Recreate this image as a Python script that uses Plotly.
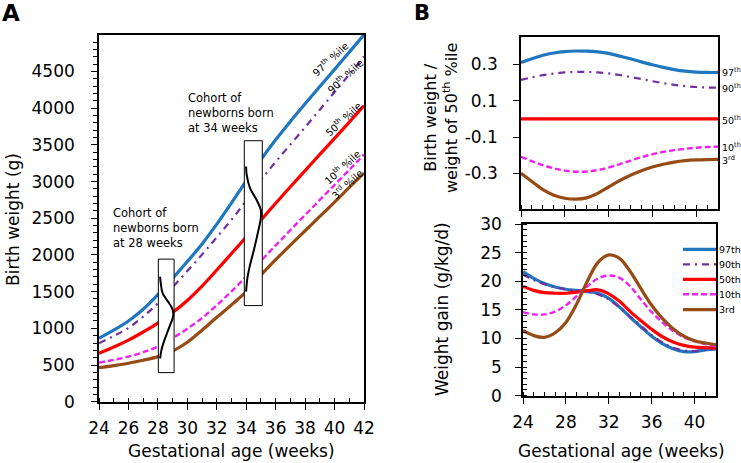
import plotly.graph_objects as go

W, H = 741, 463
FONT = "DejaVu Sans"

# ---------------- data ----------------
weeks = list(range(24, 43))

# Panel A: birth weight (g) by percentile
bw_97 = [865, 975, 1100, 1260, 1460, 1680, 1910, 2150, 2420, 2710, 3010, 3300, 3570, 3820, 4060, 4295, 4530, 4765, 5000]
bw_90 = [797, 895, 1005, 1160, 1340, 1560, 1780, 2005, 2240, 2480, 2740, 3020, 3270, 3505, 3740, 3980, 4220, 4460, 4705]
bw_50 = [660, 745, 840, 950, 1070, 1215, 1380, 1575, 1795, 2020, 2245, 2475, 2705, 2930, 3150, 3370, 3590, 3810, 4035]
bw_10 = [532, 570, 614, 675, 750, 865, 995, 1140, 1315, 1505, 1705, 1920, 2130, 2340, 2545, 2750, 2955, 3160, 3370]
bw_3 = [464, 492, 524, 565, 614, 690, 810, 975, 1150, 1320, 1500, 1725, 1935, 2135, 2330, 2525, 2720, 2920, 3116]

# Cohort boxes (week span, weight span)
box28_x = [28.03, 29.10]
box28_y = [396, 1943]
box34_x = [33.87, 35.09]
box34_y = [1310, 3557]

# Cohort weight distributions (weight, relative density)
dist28_w = [1705, 1615, 1479, 1364, 1274, 1206, 1138, 1046, 933, 819, 705, 592]
dist28_d = [0.0, 0.05, 0.19, 0.60, 0.90, 1.00, 0.95, 0.76, 0.52, 0.29, 0.10, 0.0]
dist28_base, dist28_scale = 28.15, 0.90
dist34_w = [3206, 3093, 2911, 2752, 2615, 2502, 2319, 2093, 1865, 1683, 1500]
dist34_d = [0.0, 0.04, 0.27, 0.71, 1.00, 1.00, 0.82, 0.56, 0.27, 0.09, 0.0]
dist34_base, dist34_scale = 33.99, 1.00

# Panel B top: birth weight relative to 50th percentile
rel_97 = [0.31, 0.33, 0.35, 0.362, 0.370, 0.373, 0.372, 0.368, 0.360, 0.345, 0.330, 0.313, 0.297, 0.283, 0.271, 0.262, 0.257, 0.255, 0.255]
rel_90 = [0.214, 0.228, 0.240, 0.249, 0.255, 0.258, 0.258, 0.255, 0.250, 0.241, 0.230, 0.219, 0.207, 0.196, 0.187, 0.180, 0.175, 0.172, 0.171]
rel_50 = [0.0] * 19
rel_10 = [-0.209, -0.233, -0.255, -0.272, -0.285, -0.291, -0.290, -0.282, -0.268, -0.250, -0.230, -0.211, -0.195, -0.182, -0.172, -0.165, -0.159, -0.155, -0.153]
rel_3 = [-0.30, -0.345, -0.39, -0.42, -0.437, -0.442, -0.435, -0.41, -0.375, -0.34, -0.31, -0.285, -0.265, -0.25, -0.238, -0.23, -0.226, -0.224, -0.223]

# Panel B bottom: weight gain (g/kg/d)
wg_97 = [21.7, 20.5, 19.6, 19.0, 18.6, 18.4, 18.2, 17.9, 17.0, 15.5, 13.7, 12.0, 10.4, 9.1, 8.2, 7.7, 7.7, 8.0, 8.2]
wg_90 = [21.2, 20.2, 19.5, 19.0, 18.6, 18.4, 18.2, 17.7, 16.8, 15.4, 13.8, 12.2, 10.6, 9.3, 8.4, 7.9, 7.8, 8.0, 8.2]
wg_50 = [19.1, 18.4, 18.0, 17.9, 17.9, 18.1, 18.35, 18.5, 17.8, 16.5, 14.7, 13.1, 11.6, 10.3, 9.4, 8.8, 8.5, 8.4, 8.35]
wg_10 = [14.6, 14.2, 14.2, 14.7, 15.8, 17.4, 19.1, 20.5, 21.0, 20.6, 19.1, 16.8, 14.6, 12.8, 11.3, 10.2, 9.5, 9.0, 8.6]
wg_3 = [11.4, 10.5, 10.2, 11.0, 12.8, 16.0, 20.0, 23.3, 24.6, 24.0, 21.7, 18.7, 15.8, 13.5, 11.7, 10.4, 9.6, 9.2, 8.9]

pct_names = ["97th", "90th", "50th", "10th", "3rd"]
pct_sup = ["97<sup>th</sup>", "90<sup>th</sup>", "50<sup>th</sup>", "10<sup>th</sup>", "3<sup>rd</sup>"]

a_ticks_x = [24, 26, 28, 30, 32, 34, 36, 38, 40, 42]
b_ticks_x = [24, 28, 32, 36, 40]

# ---------------- styles ----------------
colors = ["#1f77c0", "#7030a0", "#ff0000", "#ee22ee", "#964b14"]
dashes = ["solid", "7px,5px,2px,5px", "solid", "6px,3px", "solid"]
widths = [3.2, 2.2, 3.2, 2.4, 3.2]


def px_x(p):
    return p / W


def px_y(p):
    return 1 - p / H


fig = go.Figure()

# Panel A curves
for vals, c, d, w, n in zip([bw_97, bw_90, bw_50, bw_10, bw_3], colors, dashes, widths, pct_names):
    fig.add_trace(go.Scatter(x=weeks, y=vals, mode="lines", line=dict(color=c, dash=d, width=w, shape="spline"),
                             name=n, showlegend=False, xaxis="x", yaxis="y"))

# Cohort boxes and distributions
for bx, by, dw, dd, base, sc in [(box28_x, box28_y, dist28_w, dist28_d, dist28_base, dist28_scale),
                                  (box34_x, box34_y, dist34_w, dist34_d, dist34_base, dist34_scale)]:
    fig.add_trace(go.Scatter(x=[bx[0], bx[1], bx[1], bx[0], bx[0]], y=[by[0], by[0], by[1], by[1], by[0]],
                             mode="lines", fill="toself", fillcolor="white",
                             line=dict(color="black", width=1), showlegend=False, hoverinfo="skip",
                             xaxis="x", yaxis="y"))
    fig.add_trace(go.Scatter(x=[base + v * sc for v in dd], y=dw, mode="lines",
                             line=dict(color="black", width=2, shape="spline"), showlegend=False,
                             xaxis="x", yaxis="y"))

# Panel B top
for vals, c, d, w, n in zip([rel_97, rel_90, rel_50, rel_10, rel_3], colors, dashes, widths, pct_names):
    fig.add_trace(go.Scatter(x=weeks, y=vals, mode="lines", line=dict(color=c, dash=d, width=w, shape="spline"),
                             name=n, showlegend=False, xaxis="x2", yaxis="y2"))

# Panel B bottom
for vals, c, d, w, n in zip([wg_97, wg_90, wg_50, wg_10, wg_3], colors, dashes, widths, pct_names):
    fig.add_trace(go.Scatter(x=weeks, y=vals, mode="lines", line=dict(color=c, dash=d, width=w, shape="spline"),
                             name=n, showlegend=False, xaxis="x3", yaxis="y3"))

axis_common = dict(showline=True, linecolor="black", linewidth=1.6, mirror=True, showgrid=False, zeroline=False,
                   ticks="outside", tickcolor="black", ticklen=6, tickwidth=1.2, automargin=False,
                   tickfont=dict(family=FONT, size=17, color="black"))

fig.update_layout(
    width=W, height=H, margin=dict(l=0, r=0, t=0, b=0, autoexpand=False),
    paper_bgcolor="white", plot_bgcolor="white",
    font=dict(family=FONT, color="black"),
    xaxis=dict(domain=[px_x(99), px_x(364)], range=[24, 42], tickvals=a_ticks_x,
               minor=dict(dtick=1, ticks="inside", ticklen=4, tickcolor="black"),
               ticklabelstandoff=4, anchor="y", **axis_common),
    yaxis=dict(domain=[px_y(401.7), px_y(35)], range=[0, 4998], dtick=500,
               minor=dict(dtick=100, ticks="outside", ticklen=4, tickcolor="black"),
               ticklabelstandoff=13, anchor="x", **axis_common),
    xaxis2=dict(domain=[px_x(521), px_x(718)], range=[24, 42], tickvals=b_ticks_x, showticklabels=False,
                minor=dict(dtick=1, ticks="inside", ticklen=4, tickcolor="black"), anchor="y2", **axis_common),
    yaxis2=dict(domain=[px_y(209), px_y(37)], range=[-0.496, 0.45], tickvals=[-0.3, -0.1, 0.1, 0.3],
                ticktext=["-0.3", "-0.1", "0.1", "0.3"], ticklabelstandoff=12, anchor="x2", **axis_common),
    xaxis3=dict(domain=[px_x(523), px_x(716)], range=[24, 42], tickvals=b_ticks_x,
                minor=dict(dtick=1, ticks="inside", ticklen=4, tickcolor="black"),
                ticklabelstandoff=4, anchor="y3", **axis_common),
    yaxis3=dict(domain=[px_y(395.7), px_y(224)], range=[0, 30], dtick=5,
                minor=dict(dtick=1, ticks="inside", ticklen=4, tickcolor="black"),
                ticklabelstandoff=10, anchor="x3", **axis_common),
)

ann = []


def add_text(text, x, y, size, angle=0, xanchor="center", yanchor="middle", align="center", bold=False):
    ann.append(dict(text=("<b>%s</b>" % text) if bold else text, x=px_x(x), y=px_y(y), xref="paper", yref="paper",
                    showarrow=False, textangle=angle, xanchor=xanchor, yanchor=yanchor, align=align,
                    borderpad=0, font=dict(family=FONT, size=size, color="black")))


add_text("A", 11, 13, 23, bold=True)
add_text("B", 422, 13, 21, bold=True)
add_text("Birth weight (g)", 13, 220, 17, angle=-90)
add_text("Gestational age (weeks)", 231, 451, 17)
add_text("Gestational age (weeks)", 621, 451, 17)
add_text("Birth weight /<br>weight of 50<sup>th</sup> %ile", 441, 118, 16, angle=-90)
add_text("Weight gain (g/kg/d)", 442, 309, 17, angle=-90)
add_text("Cohort of<br>newborns born<br>at 34 weeks", 187, 113, 11.5, xanchor="left", align="left")
add_text("Cohort of<br>newborns born<br>at 28 weeks", 112, 228, 11.5, xanchor="left", align="left")

# rotated percentile labels in panel A
for t, (x, y) in zip(pct_sup, [(330, 59), (345, 76), (343, 119), (342, 167), (347, 184)]):
    add_text(t + " %ile", x, y, 10, angle=-43)

# right-hand labels in panel B top
for t, y in zip(pct_sup, [72, 88, 120, 147, 160]):
    add_text(t, 721, y, 9.5, xanchor="left")

# legend in panel B bottom
shapes = []
for n, c, d, w, y in zip(pct_names, colors, dashes, widths, [249.3, 264.3, 279.3, 294.3, 309.6]):
    shapes.append(dict(type="line", xref="paper", yref="paper", x0=px_x(683), x1=px_x(716), y0=px_y(y), y1=px_y(y),
                       line=dict(color=c, width=w, dash=d)))
    add_text(n, 718, y, 9.5, xanchor="left")

fig.update_layout(annotations=ann, shapes=shapes)
fig.write_html("out.html", config={"displayModeBar": False},
               post_script="document.body.style.margin='0';document.body.style.padding='0';")
